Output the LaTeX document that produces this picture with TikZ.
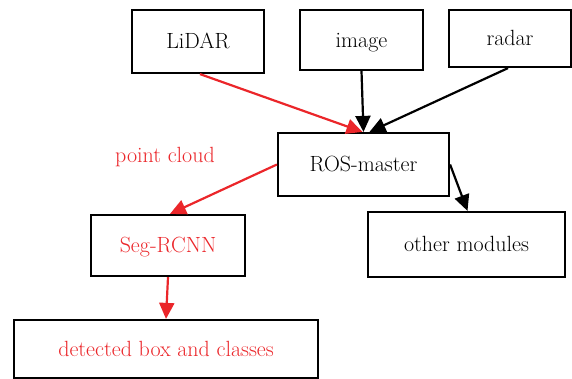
\documentclass[tikz,border=0pt]{standalone}
\usepackage{fontspec}
\setmainfont{Latin Modern Roman}
\usetikzlibrary{arrows.meta}
\definecolor{flowred}{RGB}{235,38,42}
\tikzset{
  lbl/.style={font=\fontsize{22}{26}\selectfont, text height=17pt, text depth=3pt},
  box/.style={draw=black, line width=2.2pt, inner sep=0pt, lbl},
  link/.style={line width=2.2pt, -{Triangle[length=16pt,width=15pt]}},
  redlink/.style={link, draw=flowred, fill=flowred},
  blacklink/.style={link, draw=black, fill=black},
}
\begin{document}
\begin{tikzpicture}[x=1pt, y=-1pt]
  \useasboundingbox (0,0) rectangle (572,378);
  % sensor inputs
  \node[box, minimum width=132pt, minimum height=63pt] (lidar) at (198,41.5) {LiDAR};
  \node[box, minimum width=123pt, minimum height=60pt] (image) at (361.5,40) {image};
  \node[box, minimum width=122pt, minimum height=57pt] (radar) at (510,38.5) {radar};
  % hub
  \node[box, minimum width=171pt, minimum height=63pt] (ros) at (363.5,164.5) {ROS-master};
  \node[box, minimum width=197pt, minimum height=65pt] (other) at (466.5,244.5) {other modules};
  % detection branch
  \node[box, minimum width=154pt, minimum height=61pt, text=flowred] (seg) at (168,245.5) {Seg-RCNN};
  \node[box, minimum width=304pt, minimum height=58pt, text=flowred] (det) at (166,349) {detected box and classes};
  \node[lbl, text=flowred] (pc) at (165,155) {point cloud};
  % connectors
  \draw[redlink] ([xshift=2pt]lidar.south) -- ([xshift=-1pt]ros.north);
  \draw[blacklink] (image.south) -- (ros.north);
  \draw[blacklink] ([xshift=-2pt]radar.south) -- ([xshift=6pt]ros.north);
  \draw[blacklink] (ros.east) -- ([xshift=1pt]other.north);
  \draw[redlink] (ros.west) -- ([xshift=2pt]seg.north);
  \draw[redlink] (seg.south) -- (det.north);
\end{tikzpicture}
\end{document}
